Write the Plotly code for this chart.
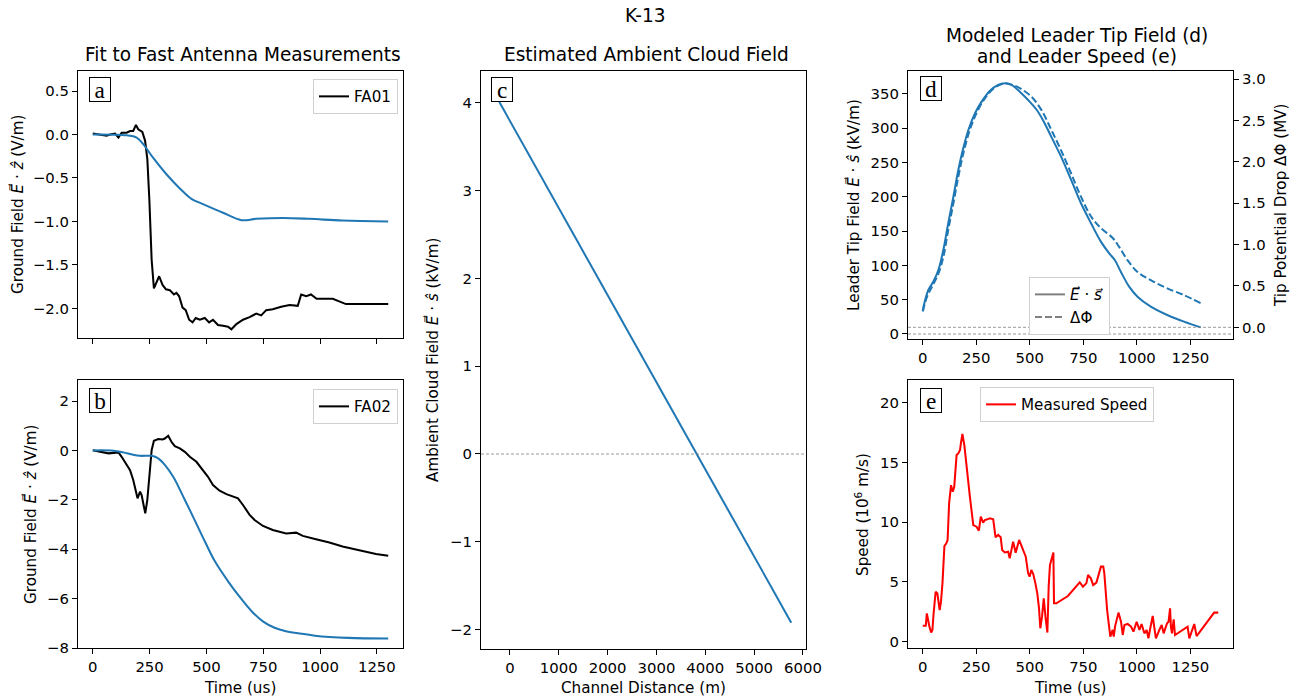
import plotly.graph_objects as go

# reference-pixel frame
RW, RH = 1301, 700
# layout size (the page is rendered at a slight zoom-out, so the layout is made a bit larger)
S = 1317 / 1301
LW, LH = round(RW * S), round(RH * S)

# ---------------- Panel a (FA01) ----------------
t_fit_a = [0, 149, 193, 222, 266, 325, 383, 434, 485, 573, 654, 719, 836, 953, 1099, 1300]
e_fit_a = [0.0, -0.01, -0.035, -0.11, -0.27, -0.46, -0.62, -0.74, -0.80, -0.90, -0.985, -0.97, -0.96, -0.97, -0.99, -1.0]

t_fa01 = [0, 32, 61, 76, 98, 113, 127, 149, 164, 178, 190, 200, 218, 230, 240, 249, 259, 269, 281, 292,
          307, 322, 339, 357, 368, 380, 395, 409, 424, 439, 453, 471, 493, 512, 529, 551, 573, 595, 610,
          632, 661, 690, 719, 741, 763, 792, 829, 866, 902, 917, 939, 960, 985, 1056, 1114, 1300]
e_fa01 = [0.01, 0.0, -0.015, 0.0, 0.01, -0.035, 0.02, 0.02, 0.04, 0.04, 0.11, 0.06, 0.03, -0.07, -0.28,
          -0.75, -1.44, -1.77, -1.69, -1.63, -1.73, -1.78, -1.79, -1.84, -1.82, -1.86, -1.99, -2.02,
          -2.13, -2.16, -2.11, -2.13, -2.11, -2.16, -2.13, -2.19, -2.20, -2.21, -2.24, -2.18, -2.13,
          -2.10, -2.06, -2.08, -2.02, -2.01, -1.98, -1.96, -1.97, -1.84, -1.86, -1.84, -1.89, -1.89,
          -1.95, -1.95]

# ---------------- Panel b (FA02) ----------------
t_fit_b = [0, 91, 134, 178, 208, 259, 288, 317, 354, 398, 441, 494, 538, 600, 650, 700, 750, 800, 850, 903, 977, 1123, 1300]
e_fit_b = [0.0, -0.01, -0.08, -0.18, -0.22, -0.22, -0.32, -0.59, -1.07, -1.87, -2.68, -3.70, -4.50, -5.36,
           -5.97, -6.52, -6.93, -7.18, -7.32, -7.40, -7.50, -7.59, -7.62]

t_fa02 = [0, 47, 69, 91, 113, 127, 149, 164, 178, 190, 197, 208, 215, 222, 231, 240, 249, 259, 269, 288,
          307, 317, 332, 346, 361, 383, 405, 427, 456, 478, 507, 529, 558, 588, 617, 639, 661, 690, 712,
          749, 792, 851, 895, 924, 982, 1041, 1099, 1173, 1246, 1300]
e_fa02 = [0.01, -0.06, -0.12, -0.1, -0.08, -0.26, -0.59, -0.80, -1.2, -1.74, -1.94, -1.67, -1.81, -2.14,
          -2.55, -2.0, -0.93, 0.01, 0.39, 0.46, 0.44, 0.48, 0.59, 0.35, 0.17, 0.08, -0.06, -0.26, -0.46,
          -0.73, -1.07, -1.40, -1.63, -1.77, -1.85, -1.94, -2.21, -2.61, -2.82, -3.06, -3.22, -3.36,
          -3.33, -3.46, -3.60, -3.73, -3.89, -4.05, -4.19, -4.27]

# ---------------- Panel c ----------------
dist_c = [-290, 5760]
field_c = [4.08, -1.92]

# ---------------- Panel d ----------------
t_tip = [0, 11, 26, 49, 73, 96, 119, 143, 166, 189, 213, 244, 275, 313, 352, 383, 414, 453, 492, 530,
         561, 600, 646, 693, 739, 786, 832, 871, 897, 925, 964, 1003, 1065, 1142, 1220, 1298]
tip_field = [34, 49.6, 64.2, 76.3, 93.3, 122.5, 161.4, 200.3, 239.2, 270.8, 297.5, 321.8, 338.8, 354.4,
             363.2, 365.6, 363.2, 353.4, 341.3, 327.7, 312.1, 287.8, 258.6, 224.6, 190.6, 161.4, 134.7,
             117.6, 107.9, 90.9, 69.0, 54.4, 39.9, 27.7, 18.0, 9.7]

t_phi = [0, 20, 43, 73, 96, 119, 143, 166, 189, 220, 251, 290, 337, 383, 422, 461, 507, 554, 600, 646,
         693, 739, 786, 832, 887, 918, 957, 1003, 1065, 1142, 1220, 1300]
delta_phi = [0.19, 0.37, 0.49, 0.65, 0.85, 1.18, 1.50, 1.82, 2.10, 2.39, 2.59, 2.77, 2.90, 2.95, 2.93,
             2.88, 2.79, 2.63, 2.39, 2.14, 1.86, 1.58, 1.34, 1.20, 1.08, 0.97, 0.81, 0.67, 0.57, 0.47,
             0.39, 0.29]

# ---------------- Panel e ----------------
t_speed = [0, 14, 19, 23, 30, 39, 45, 50, 54, 60, 68, 73, 79, 85, 92, 101, 110, 116, 123, 132, 140, 147,
           158, 166, 174, 178, 185, 194, 205, 220, 236, 251, 262, 271, 282, 290, 302, 313, 329, 340, 352,
           364, 371, 383, 399, 406, 422, 434, 450, 461, 473, 481, 492, 499, 507, 516, 526, 535, 543, 549,
           557, 565, 573, 582, 588, 594, 610, 613, 624, 678, 733, 748, 764, 772, 785, 796, 811, 832, 843,
           848, 861, 876, 887, 892, 898, 914, 926, 934, 942, 957, 973, 984, 999, 1012, 1022, 1035, 1046,
           1054, 1061, 1074, 1082, 1089, 1105, 1116, 1125, 1141, 1148, 1155, 1159, 1164, 1172, 1178, 1237,
           1245, 1268, 1279, 1361, 1380]
speed = [1.34, 1.34, 2.37, 1.82, 1.34, 0.76, 0.98, 2.23, 3.21, 4.18, 4.05, 3.35, 2.65, 3.35, 4.88, 8.0,
         8.23, 8.51, 11.58, 13.1, 12.55, 12.97, 15.62, 15.76, 16.04, 16.6, 17.38, 16.46, 14.37, 12.13,
         9.76, 9.62, 9.29, 10.47, 9.96, 10.18, 10.24, 10.32, 10.24, 8.73, 8.93, 8.73, 7.67, 7.47, 7.53,
         6.97, 8.37, 7.45, 8.51, 8.0, 7.53, 7.11, 5.72, 5.44, 6.0, 5.66, 4.88, 4.05, 2.79, 1.12, 2.09,
         3.63, 2.09, 0.76, 4.60, 6.41, 7.47, 3.21, 3.21, 3.82, 4.97, 4.60, 4.88, 5.58, 5.30, 4.74, 4.94,
         6.28, 6.28, 5.72, 2.65, 0.42, 0.98, 0.42, 1.26, 2.43, 1.67, 0.56, 1.40, 1.48, 1.26, 0.84, 1.67,
         0.98, 1.48, 0.70, 0.98, 0.28, 0.98, 2.15, 1.12, 0.28, 0.98, 1.40, 0.70, 1.54, 1.67, 2.79, 1.26,
         0.70, 1.87, 0.56, 1.26, 0.28, 1.48, 0.47, 2.43, 2.43]

# ---------------- Ticks / labels ----------------
time_ticks = [0, 250, 500, 750, 1000, 1250]
a_yticks = [-2.0, -1.5, -1.0, -0.5, 0.0, 0.5]
b_yticks = [-8, -6, -4, -2, 0, 2]
c_xticks = [0, 1000, 2000, 3000, 4000, 5000, 6000]
c_yticks = [-2, -1, 0, 1, 2, 3, 4]
d_yticks = [0, 50, 100, 150, 200, 250, 300, 350]
d_y2ticks = [0.0, 0.5, 1.0, 1.5, 2.0, 2.5, 3.0]
e_yticks = [0, 5, 10, 15, 20]

BLUE = "#1f77b4"
FONT = "DejaVu Sans"
TICK = 14.7 * S
LAB = 15.0 * S
TTL = 18.3 * S
LEG = 15.0 * S
LW_LINE = 2 * S


def xd(p0, p1):
    return [p0 / RW, p1 / RW]


def yd(top, bottom):
    return [1 - bottom / RH, 1 - top / RH]


fig = go.Figure()

fig.add_trace(go.Scatter(x=t_fa01, y=e_fa01, mode="lines", line=dict(color="black", width=LW_LINE),
                         name="FA01", xaxis="x", yaxis="y", legend="legend"))
fig.add_trace(go.Scatter(x=t_fit_a, y=e_fit_a, mode="lines",
                         line=dict(color=BLUE, width=LW_LINE, shape="spline"),
                         showlegend=False, xaxis="x", yaxis="y"))
fig.add_trace(go.Scatter(x=t_fa02, y=e_fa02, mode="lines", line=dict(color="black", width=LW_LINE),
                         name="FA02", xaxis="x2", yaxis="y2", legend="legend2"))
fig.add_trace(go.Scatter(x=t_fit_b, y=e_fit_b, mode="lines",
                         line=dict(color=BLUE, width=LW_LINE, shape="spline"),
                         showlegend=False, xaxis="x2", yaxis="y2"))
fig.add_trace(go.Scatter(x=dist_c, y=field_c, mode="lines", line=dict(color=BLUE, width=LW_LINE),
                         showlegend=False, xaxis="x3", yaxis="y3"))
fig.add_trace(go.Scatter(x=t_tip, y=tip_field, mode="lines",
                         line=dict(color=BLUE, width=LW_LINE, shape="spline"),
                         showlegend=False, xaxis="x4", yaxis="y4"))
fig.add_trace(go.Scatter(x=t_phi, y=delta_phi, mode="lines",
                         line=dict(color=BLUE, width=LW_LINE, dash="7px,3px", shape="spline"),
                         showlegend=False, xaxis="x4", yaxis="y6"))
fig.add_trace(go.Scatter(x=[None], y=[None], mode="lines", line=dict(color="gray", width=LW_LINE),
                         name="<i>E\u20d7</i> \u00b7 <i>s\u20d7</i>", xaxis="x4", yaxis="y4", legend="legend4"))
fig.add_trace(go.Scatter(x=[None], y=[None], mode="lines",
                         line=dict(color="gray", width=LW_LINE, dash="7px,3px"),
                         name="\u0394\u03a6", xaxis="x4", yaxis="y4", legend="legend4"))
fig.add_trace(go.Scatter(x=t_speed, y=speed, mode="lines", line=dict(color="red", width=LW_LINE),
                         name="Measured Speed", xaxis="x5", yaxis="y5", legend="legend5"))

axis_common = dict(showline=True, linecolor="black", linewidth=1, mirror=True, ticks="outside",
                   ticklen=5, tickwidth=1, tickcolor="black", showgrid=False, zeroline=False,
                   tickfont=dict(family=FONT, size=TICK, color="black"))

fig.update_layout(
    xaxis=dict(domain=xd(78, 403), range=[-65, 1365], tickvals=time_ticks, showticklabels=False,
               anchor="y", **axis_common),
    yaxis=dict(domain=yd(71, 338), range=[-2.34, 0.73], tickvals=a_yticks, tickformat=".1f",
               anchor="x", **axis_common),
    xaxis2=dict(domain=xd(78, 403), range=[-65, 1365], tickvals=time_ticks, anchor="y2", **axis_common),
    yaxis2=dict(domain=yd(380, 648), range=[-8.0, 2.85], tickvals=b_yticks, anchor="x2", **axis_common),
    xaxis3=dict(domain=xd(481, 806), range=[-592, 6062], tickvals=c_xticks, anchor="y3", **axis_common),
    yaxis3=dict(domain=yd(71, 649), range=[-2.22, 4.36], tickvals=c_yticks, anchor="x3", **axis_common),
    xaxis4=dict(domain=xd(908, 1233), range=[-69, 1449], tickvals=time_ticks, anchor="y4", **axis_common),
    yaxis4=dict(domain=yd(71, 339), range=[-7.3, 383.5], tickvals=d_yticks, anchor="x4", **axis_common),
    yaxis6=dict(domain=yd(71, 339), range=[-0.1415, 3.1], tickvals=d_y2ticks, tickformat=".1f",
                overlaying="y4", side="right", anchor="x4",
                **{k: v for k, v in axis_common.items() if k != "mirror"}),
    xaxis5=dict(domain=xd(908, 1233), range=[-69, 1449], tickvals=time_ticks, anchor="y5", **axis_common),
    yaxis5=dict(domain=yd(380, 648), range=[-0.53, 21.9], tickvals=e_yticks, anchor="x5", **axis_common),
)

leg_common = dict(bgcolor="white", bordercolor="#d0d0d0", borderwidth=1,
                  font=dict(family=FONT, size=LEG, color="black"), itemwidth=30, tracegroupgap=0)
fig.update_layout(
    legend=dict(x=398 / RW, y=1 - 79 / RH, xanchor="right", yanchor="top", **leg_common),
    legend2=dict(x=398 / RW, y=1 - 389 / RH, xanchor="right", yanchor="top", **leg_common),
    legend4=dict(x=1029 / RW, y=1 - 277 / RH, xanchor="left", yanchor="top", **leg_common),
    legend5=dict(x=980 / RW, y=1 - 387 / RH, xanchor="left", yanchor="top", **leg_common),
)

gline = dict(color="gray", width=0.8, dash="3px,2px")
fig.add_shape(type="line", xref="x3 domain", yref="y3", x0=0, x1=1, y0=0, y1=0, line=gline)
fig.add_shape(type="line", xref="x4 domain", yref="y4", x0=0, x1=1, y0=0, y1=0, line=gline)
fig.add_shape(type="line", xref="x4 domain", yref="y6", x0=0, x1=1, y0=0, y1=0, line=gline)

ann = []


def text(px, py, s, size=LAB, angle=0, **kw):
    ann.append(dict(x=px / RW, y=1 - py / RH, xref="paper", yref="paper", text=s, showarrow=False,
                    textangle=angle, font=dict(family=FONT, size=size, color="black"),
                    xanchor="center", yanchor="middle", **kw))


text(645, 15, "K-13", size=TTL)
text(243, 54, "Fit to Fast Antenna Measurements", size=TTL)
text(646, 54, "Estimated Ambient Cloud Field", size=TTL)
text(1077, 35, "Modeled Leader Tip Field (d)", size=TTL)
text(1077, 57, "and Leader Speed (e)", size=TTL)

text(17, 205, "Ground Field <i>E\u20d7</i> \u00b7 <i>\u1e91</i> (V/m)", angle=-90)
text(30, 515, "Ground Field <i>E\u20d7</i> \u00b7 <i>\u1e91</i> (V/m)", angle=-90)
text(433, 360, "Ambient Cloud Field <i>E\u20d7</i> \u00b7 <i>\u015d</i> (kV/m)", angle=-90)
text(853, 205, "Leader Tip Field <i>E\u20d7</i> \u00b7 <i>\u015d</i> (kV/m)", angle=-90)
text(1281, 205, "Tip Potential Drop \u0394\u03a6 (MV)", angle=-90)
text(862, 515, "Speed (10<sup>6</sup> m/s)", angle=-90)

text(240, 688, "Time (us)")
text(643, 688, "Channel Distance (m)")
text(1070, 688, "Time (us)")

for lab, px, py in [("a", 100, 90), ("b", 100, 400), ("c", 502, 90), ("d", 931, 89), ("e", 931, 400)]:
    ann.append(dict(x=px / RW, y=1 - py / RH, xref="paper", yref="paper", text=lab, showarrow=False,
                    font=dict(family="Liberation Serif", size=23 * S, color="black"),
                    width=18 * S, height=21 * S, align="center", valign="middle",
                    bordercolor="black", borderwidth=1, borderpad=1, bgcolor="white",
                    xanchor="center", yanchor="middle"))

fig.update_layout(annotations=ann, width=LW, height=LH, margin=dict(l=0, r=0, t=0, b=0),
                  plot_bgcolor="white", paper_bgcolor="white",
                  font=dict(family=FONT, size=14, color="black"))

fig.write_html("out.html")
